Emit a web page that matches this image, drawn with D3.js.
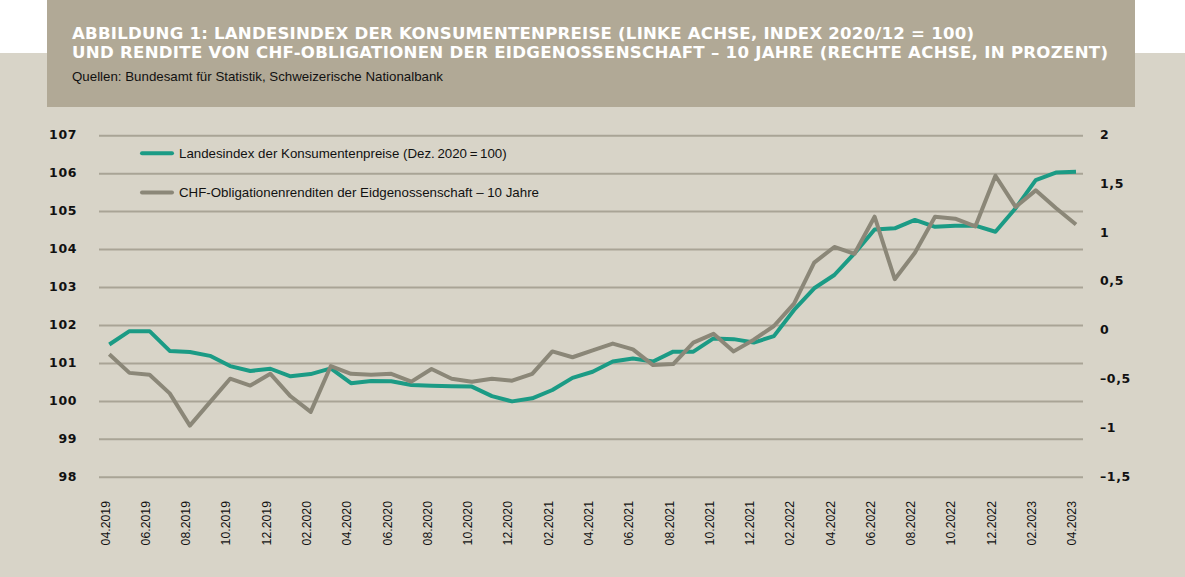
<!DOCTYPE html>
<html>
<head>
<meta charset="utf-8">
<script src="https://cdn.jsdelivr.net/npm/d3@7"></script>
<style>
  body { margin: 0; background: #ffffff; }
  svg { display: block; }
</style>
</head>
<body>
<svg id="chart"></svg>
<script>
// Monate April 2019 bis April 2023
var months = ["04.2019","05.2019","06.2019","07.2019","08.2019","09.2019","10.2019","11.2019","12.2019",
  "01.2020","02.2020","03.2020","04.2020","05.2020","06.2020","07.2020","08.2020","09.2020","10.2020","11.2020","12.2020",
  "01.2021","02.2021","03.2021","04.2021","05.2021","06.2021","07.2021","08.2021","09.2021","10.2021","11.2021","12.2021",
  "01.2022","02.2022","03.2022","04.2022","05.2022","06.2022","07.2022","08.2022","09.2022","10.2022","11.2022","12.2022",
  "01.2023","02.2023","03.2023","04.2023"];

// LIK (Dez. 2020 = 100), linke Achse
var cpi = [101.50,101.85,101.85,101.33,101.30,101.20,100.93,100.80,100.86,100.66,100.72,100.87,100.48,100.54,100.53,
  100.43,100.41,100.40,100.39,100.14,100.00,100.08,100.30,100.62,100.78,101.05,101.13,101.05,101.31,101.31,
  101.66,101.64,101.55,101.72,102.41,102.98,103.33,103.90,104.53,104.56,104.78,104.60,104.63,104.63,104.47,
  105.09,105.83,106.03,106.05];

// Rendite 10 J. Bundesobligationen in %, rechte Achse
var yields = [-0.24,-0.43,-0.45,-0.64,-0.97,-0.73,-0.49,-0.56,-0.44,-0.67,-0.83,-0.36,-0.44,-0.45,-0.44,
  -0.52,-0.39,-0.49,-0.52,-0.49,-0.51,-0.44,-0.21,-0.27,-0.20,-0.13,-0.19,-0.35,-0.34,-0.12,
  -0.03,-0.21,-0.09,0.05,0.28,0.70,0.86,0.79,1.17,0.53,0.80,1.17,1.15,1.07,1.59,1.27,1.44,1.26,1.09];

var leftTicks = [98,99,100,101,102,103,104,105,106,107];
var rightTicks = [-1.5,-1,-0.5,0,0.5,1,1.5,2];

var titleLines = ["ABBILDUNG 1: LANDESINDEX DER KONSUMENTENPREISE (LINKE ACHSE, INDEX 2020/12 = 100)",
  "UND RENDITE VON CHF-OBLIGATIONEN DER EIDGENOSSENSCHAFT \u2013 10 JAHRE (RECHTE ACHSE, IN PROZENT)"];
var titleWidths = [902, 1036];
var sourceText = "Quellen: Bundesamt f\u00fcr Statistik, Schweizerische Nationalbank";
var legendLabels = ["Landesindex der Konsumentenpreise (Dez.\u20092020\u2009=\u2009100)",
  "CHF-Obligationenrenditen der Eidgenossenschaft \u2013 10 Jahre"];

class DualLineChart {

    constructor( config ) {
        this.config = {
            parent: config.parent,
            width: config.width || 1185,
            height: config.height || 577,
            colors: config.colors
        }
        this.init();
    }

    init() {
        let self = this;
        let c = self.config.colors;

        self.svg = d3.select( self.config.parent )
            .attr('width', self.config.width)
            .attr('height', self.config.height);

        // Hintergrund
        self.svg.append('rect')
            .attr('width', self.config.width).attr('height', self.config.height)
            .attr('fill', '#ffffff');
        self.svg.append('rect')
            .attr('y', 53)
            .attr('width', self.config.width).attr('height', self.config.height - 53)
            .attr('fill', c.bg);
        self.svg.append('rect')
            .attr('x', 47).attr('y', 0)
            .attr('width', 1135 - 47).attr('height', 107)
            .attr('fill', c.title);

        // Titel
        self.svg.selectAll('.title')
            .data(titleLines)
            .enter()
            .append('text')
            .attr('x', 72)
            .attr('y', (d, i) => 38.5 + i * 19)
            .attr('fill', '#ffffff')
            .attr('font-family', 'DejaVu Sans, sans-serif')
            .attr('font-weight', 'bold')
            .attr('font-size', '16.6px')
            .attr('textLength', (d, i) => titleWidths[i])
            .attr('lengthAdjust', 'spacing')
            .text(d => d);

        self.svg.append('text')
            .attr('x', 72).attr('y', 81)
            .attr('fill', '#111111')
            .attr('font-family', 'Liberation Sans, Arial, sans-serif')
            .attr('font-size', '13.3px')
            .text(sourceText);

        self.x = d3.scalePoint().domain(months).range([109.3, 1076]);
        self.yl = d3.scaleLinear().domain([98, 107]).range([477.3, 135.7]);
        self.yr = d3.scaleLinear().domain([-1.5, 2]).range([477.3, 135.7]);

        self.chart = self.svg.append('g');
    }

    render() {
        let self = this;
        let c = self.config.colors;

        // Gitterlinien
        self.chart.selectAll('.grid')
            .data(leftTicks)
            .enter()
            .append('line')
            .attr('x1', 99).attr('x2', 1083)
            .attr('y1', d => self.yl(d)).attr('y2', d => self.yl(d))
            .attr('stroke', c.grid)
            .attr('stroke-width', 2);

        // linke Achse
        self.chart.selectAll('.ltick')
            .data(leftTicks)
            .enter()
            .append('text')
            .attr('x', 77)
            .attr('y', d => self.yl(d) - 1)
            .attr('dy', '0.35em')
            .attr('text-anchor', 'end')
            .attr('font-family', 'DejaVu Sans, sans-serif')
            .attr('font-weight', 'bold')
            .attr('font-size', '12.5px')
            .attr('letter-spacing', '0.6px')
            .attr('fill', '#111111')
            .text(d => d);

        // rechte Achse
        self.chart.selectAll('.rtick')
            .data(rightTicks)
            .enter()
            .append('text')
            .attr('x', 1100)
            .attr('y', d => self.yr(d) - 1)
            .attr('dy', '0.35em')
            .attr('font-family', 'DejaVu Sans, sans-serif')
            .attr('font-weight', 'bold')
            .attr('font-size', '12.5px')
            .attr('letter-spacing', '0.6px')
            .attr('fill', '#111111')
            .text(d => (d < 0 ? '\u2013' : '') + d3.format('.1~f')(Math.abs(d)).replace('.', ','));

        // x-Achse, jeder zweite Monat
        self.chart.selectAll('.xtick')
            .data(months.filter((d, i) => i % 2 === 0))
            .enter()
            .append('text')
            .attr('transform', d => `translate(${self.x(d) - 4}, 501) rotate(-90)`)
            .attr('dy', '0.35em')
            .attr('text-anchor', 'end')
            .attr('font-family', 'Liberation Sans, Arial, sans-serif')
            .attr('font-size', '12.3px')
            .attr('fill', '#111111')
            .text(d => d);

        const lineL = d3.line()
            .x((d, i) => self.x(months[i]))
            .y(d => self.yl(d));
        const lineR = d3.line()
            .x((d, i) => self.x(months[i]))
            .y(d => self.yr(d));

        self.chart.append('path')
            .datum(cpi)
            .attr('d', lineL)
            .attr('fill', 'none')
            .attr('stroke', c.teal)
            .attr('stroke-width', 4)
            .attr('stroke-linejoin', 'round');

        self.chart.append('path')
            .datum(yields)
            .attr('d', lineR)
            .attr('fill', 'none')
            .attr('stroke', c.gray)
            .attr('stroke-width', 4)
            .attr('stroke-linejoin', 'round');

        // Legende
        let legend = self.chart.selectAll('.legend')
            .data(legendLabels)
            .enter()
            .append('g')
            .attr('transform', (d, i) => `translate(142, ${153.3 + i * 39.3})`);
        legend.append('line')
            .attr('x1', 0).attr('x2', 30)
            .attr('stroke', (d, i) => i === 0 ? c.teal : c.gray)
            .attr('stroke-width', 4)
            .attr('stroke-linecap', 'round');
        legend.append('text')
            .attr('x', 37)
            .attr('dy', '0.35em')
            .attr('font-family', 'Liberation Sans, Arial, sans-serif')
            .attr('font-size', '13.3px')
            .attr('fill', '#111111')
            .text(d => d);
    }
}

let chart = new DualLineChart({
    parent: '#chart',
    width: 1185,
    height: 577,
    colors: { bg: '#d8d4c8', title: '#b1a996', grid: '#a9a496', teal: '#1b9b85', gray: '#8b8778' }
});
chart.render();
</script>
</body>
</html>
